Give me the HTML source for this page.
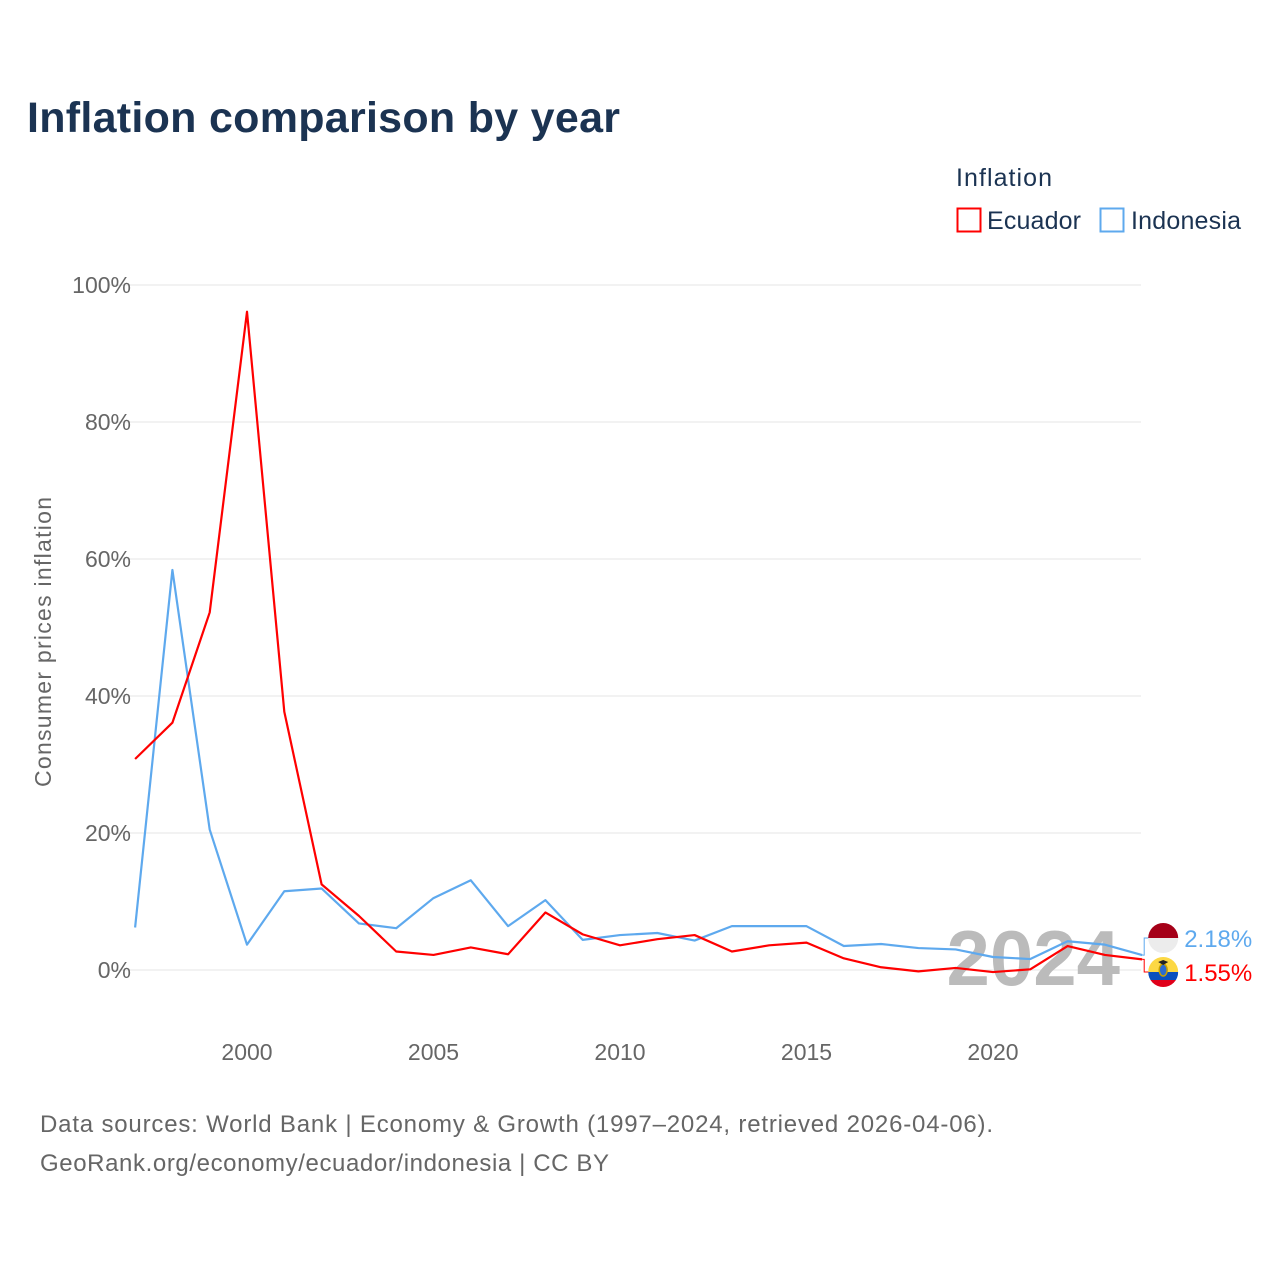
<!DOCTYPE html>
<html><head><meta charset="utf-8">
<style>
body{margin:0;background:#fff;font-family:"Liberation Sans",sans-serif;}
svg text{font-family:"Liberation Sans",sans-serif;}
</style></head>
<body>
<svg id="chart" width="1280" height="1280" viewBox="0 0 1280 1280">
<text x="27" y="132" font-size="43" font-weight="bold" fill="#1b3352" textLength="593">Inflation comparison by year</text>
<text x="956" y="186" font-size="25" fill="#1b3352" textLength="96">Inflation</text>
<g>
<rect x="957.5" y="208.5" width="23" height="23" fill="none" stroke="#ff0000" stroke-width="2"/>
<text x="987" y="229" font-size="25" fill="#1b3352" textLength="94">Ecuador</text></g>
<g>
<rect x="1100.5" y="208.5" width="23" height="23" fill="none" stroke="#5ea9ee" stroke-width="2"/>
<text x="1131" y="229" font-size="25" fill="#1b3352" textLength="110">Indonesia</text></g>
<g id="grid"></g>
<text x="0" y="0" transform="translate(51,642) rotate(-90)" text-anchor="middle" font-size="23" fill="#666" textLength="290">Consumer prices inflation</text>
<text x="1120" y="985" text-anchor="end" font-size="78" font-weight="bold" fill="#bbb">2024</text>
<g id="series"></g>
<text x="40" y="1132" font-size="24" fill="#666" textLength="953">Data sources: World Bank | Economy &amp; Growth (1997–2024, retrieved 2026-04-06).</text>
<text x="40" y="1171" font-size="24" fill="#666" textLength="569">GeoRank.org/economy/ecuador/indonesia | CC BY</text>
</svg>
<script>
const years=[1997,1998,1999,2000,2001,2002,2003,2004,2005,2006,2007,2008,2009,2010,2011,2012,2013,2014,2015,2016,2017,2018,2019,2020,2021,2022,2023,2024];
const ecuador=[30.8,36.1,52.2,96.1,37.7,12.5,7.9,2.7,2.2,3.3,2.3,8.4,5.2,3.6,4.5,5.1,2.7,3.6,4.0,1.7,0.4,-0.2,0.3,-0.3,0.1,3.5,2.2,1.55];
const indonesia=[6.2,58.4,20.5,3.7,11.5,11.9,6.8,6.1,10.5,13.1,6.4,10.2,4.4,5.1,5.4,4.3,6.4,6.4,6.4,3.5,3.8,3.2,3.0,1.9,1.6,4.2,3.7,2.18];
const yTicks=[0,20,40,60,80,100];
const xTicks=[2000,2005,2010,2015,2020];
const NS="http://www.w3.org/2000/svg";
function X(y){return 247+(y-2000)*37.3;}
function Y(v){return 970-v*6.85;}
function mk(t,a,p){const e=document.createElementNS(NS,t);for(const k in a)e.setAttribute(k,a[k]);p.appendChild(e);return e;}
const grid=document.getElementById('grid');
yTicks.forEach(v=>{
 const l=mk('line',{x1:110,x2:1141,y1:Y(v),y2:Y(v),stroke:'#e6e6e6','stroke-width':1},grid);
 
 
 const t=mk('text',{x:131,y:Y(v)+8,'text-anchor':'end','font-size':23,fill:'#666'},grid);
 t.textContent=v+'%';
 
 
});
xTicks.forEach(v=>{
 const t=mk('text',{x:X(v),y:1060,'text-anchor':'middle','font-size':23,fill:'#666'},grid);
 t.textContent=v;
 
 
});
const s=document.getElementById('series');
function line(vals,col,name){
 const p=mk('polyline',{points:vals.map((v,i)=>X(years[i])+','+Y(v)).join(' '),fill:'none',stroke:col,'stroke-width':2.2,'stroke-linejoin':'round'},s);
 
 
}
line(indonesia,'#5ea9ee','indonesia-line');
line(ecuador,'#ff0000','ecuador-line');
const lx=X(2024);
const iv=indonesia[indonesia.length-1], ev=ecuador[ecuador.length-1];
const iy=938, ey=972;
mk('polyline',{points:`${lx},${Y(iv)} ${lx+2},${Y(iv)} ${lx+2},${iy} ${lx+8},${iy}`,fill:'none',stroke:'#5ea9ee','stroke-width':1},s);
mk('polyline',{points:`${lx},${Y(ev)} ${lx+2},${Y(ev)} ${lx+2},${ey} ${lx+8},${ey}`,fill:'none',stroke:'#ff0000','stroke-width':1},s);
const fi=mk('g',{},s);


mk('path',{d:`M${lx+6},${iy} a15,15 0 0 1 30,0 z`,fill:'#a50018'},fi);
mk('path',{d:`M${lx+6},${iy} a15,15 0 0 0 30,0 z`,fill:'#ececec'},fi);
const fe=mk('g',{},s);


mk('clipPath',{id:'ec'},fe);
mk('circle',{cx:lx+21,cy:ey,r:15},document.getElementById('ec'));
const eg=mk('g',{'clip-path':'url(#ec)'},fe);
mk('rect',{x:lx+6,y:ey-15,width:30,height:15,fill:'#fcd844'},eg);
mk('rect',{x:lx+6,y:ey,width:30,height:8,fill:'#0a4fbf'},eg);
mk('rect',{x:lx+6,y:ey+8,width:30,height:7,fill:'#e0001a'},eg);
mk('ellipse',{cx:lx+21,cy:ey-2,rx:4,ry:6,fill:'#2b6bd0',stroke:'#c8a000','stroke-width':1.5},eg);
mk('path',{d:`M${lx+16},${ey-10} l5,3 l5,-3 l-5,-2 z`,fill:'#222'},eg);
const ti=mk('text',{x:lx+42,y:iy+9,'font-size':24,fill:'#5ea9ee'},s);
ti.textContent=iv.toFixed(2)+'%';


const te=mk('text',{x:lx+42,y:ey+9,'font-size':24,fill:'#ff0000'},s);
te.textContent=ev.toFixed(2)+'%';


</script>
</body></html>
